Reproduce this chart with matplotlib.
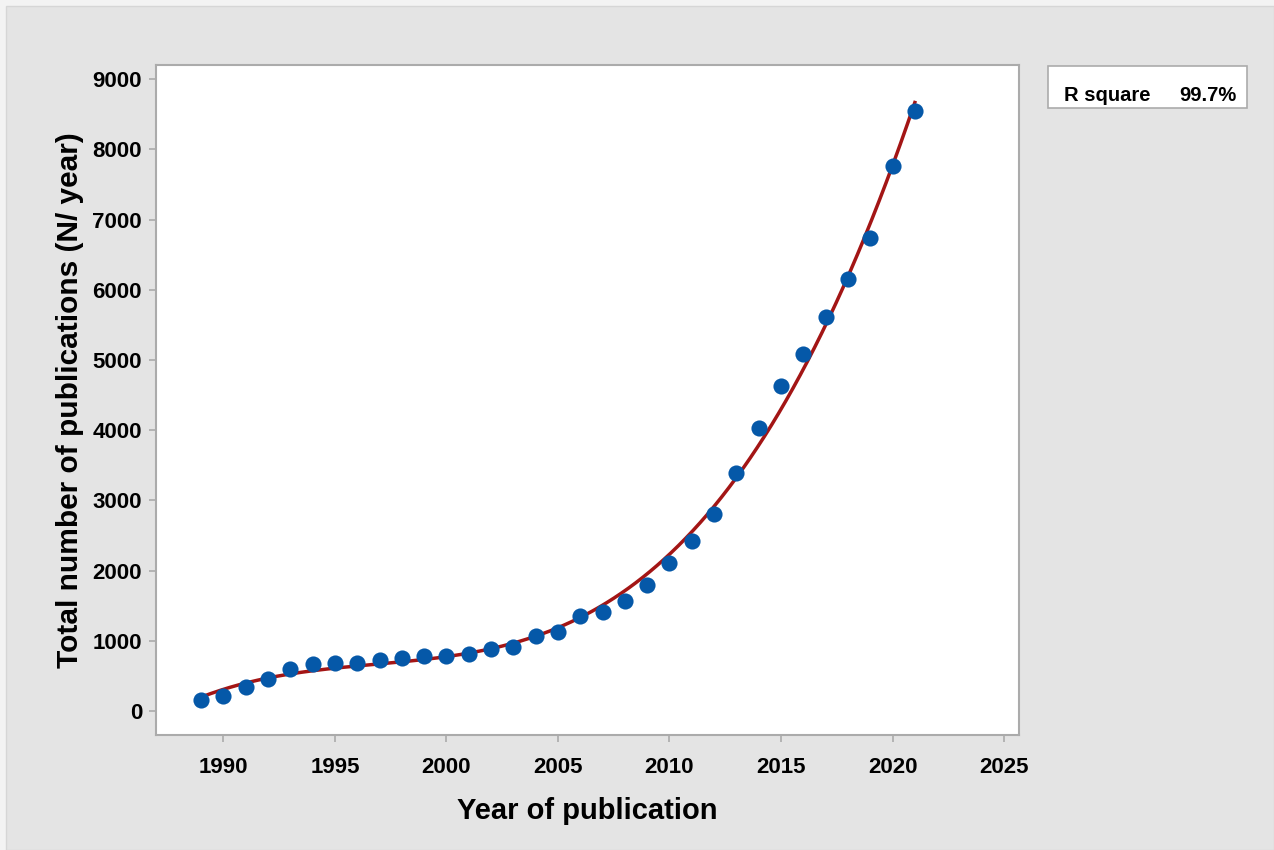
import numpy as np
import matplotlib.pyplot as plt
from matplotlib.patches import Rectangle

plt.rcParams['font.family'] = ['Liberation Sans', 'DejaVu Sans']
plt.rcParams['font.weight'] = 'bold'

years = np.arange(1989, 2022)
publications = [157, 218, 346, 464, 598, 669, 692, 683, 726, 754,
                780, 780, 820, 882, 915, 1071, 1133, 1356, 1417, 1569,
                1797, 2110, 2423, 2803, 3395, 4035, 4629, 5091, 5615, 6147,
                6742, 7759, 8541]
r_square = '99.7%'

# cubic fitted line, as in the fitted line plot
coef = np.polyfit(years - 2005, publications, 3)
xf = np.linspace(years[0], years[-1], 300)
yf = np.polyval(coef, xf - 2005)

fig = plt.figure(figsize=(12.74, 8.5), dpi=100)
fig.patch.set_facecolor('#f3f3f3')
fig.patches.append(Rectangle((6 / 1274, 0), 1 - 6 / 1274, 1 - 6 / 850,
                             transform=fig.transFigure, facecolor='#e4e4e4',
                             edgecolor='#d6d6d6', linewidth=1, zorder=-10))

ax = fig.add_axes([156 / 1274, 115 / 850, 863 / 1274, 670 / 850])
ax.set_facecolor('white')
ax.plot(xf, yf, color='#a31515', linewidth=2.5, zorder=2)
ax.scatter(years, publications, s=135, color='#0558a8', zorder=3, linewidths=0)

ax.set_xlim(1986.98, 2025.67)
ax.set_ylim(-340, 9200)
ax.set_xticks(range(1990, 2026, 5))
ax.set_yticks(range(0, 9001, 1000))

for s in ax.spines.values():
    s.set_color('#ababab')
    s.set_linewidth(1.5)
ax.tick_params(axis='both', colors='#ababab', labelcolor='black', labelsize=16, length=5, width=1.2)
ax.tick_params(axis='x', pad=11)
ax.tick_params(axis='y', pad=5)

ax.set_xlabel('Year of publication', fontsize=21, fontweight='bold')
ax.set_ylabel('Total number of publications (N/ year)', fontsize=21.5, fontweight='bold')
ax.xaxis.set_label_coords(0.5, -0.092)
ax.yaxis.set_label_coords(-0.084, 0.5)

fig.patches.append(Rectangle((1048 / 1274, 1 - 108 / 850), 199 / 1274, 42 / 850,
                             transform=fig.transFigure, facecolor='white',
                             edgecolor='#ababab', linewidth=1.2, zorder=1))
fig.text(1064 / 1274, 1 - 101 / 850, 'R square', fontsize=14.5, fontweight='bold', va='baseline')
fig.text(1236 / 1274, 1 - 101 / 850, r_square, fontsize=14.5, fontweight='bold', va='baseline', ha='right')

fig.savefig('out.png', dpi=100, facecolor=fig.get_facecolor())
